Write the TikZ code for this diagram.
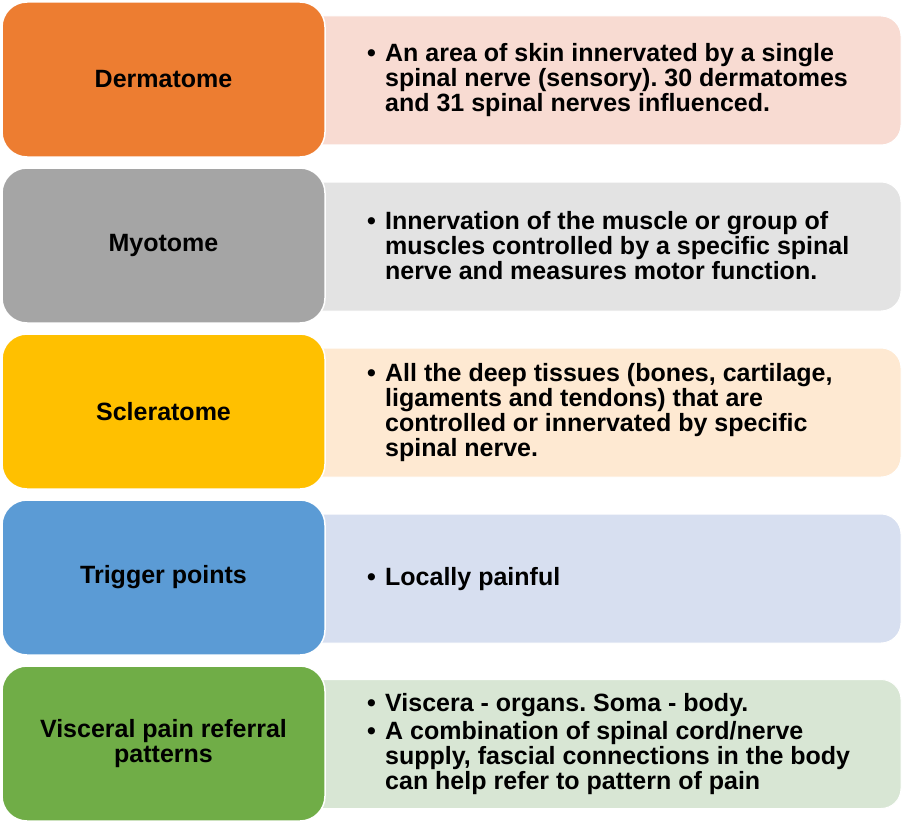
\documentclass[tikz,border=0pt]{standalone}
\usepackage{fontspec}
\setmainfont{Liberation Sans}
\frenchspacing
\definecolor{dermfill}{HTML}{ED7D31}
\definecolor{myofill}{HTML}{A5A5A5}
\definecolor{sclfill}{HTML}{FFC000}
\definecolor{trigfill}{HTML}{5B9BD5}
\definecolor{viscfill}{HTML}{70AD47}
\definecolor{dermpale}{HTML}{F8DBD2}
\definecolor{myopale}{HTML}{E3E3E3}
\definecolor{sclpale}{HTML}{FEE9D2}
\definecolor{trigpale}{HTML}{D7DFF0}
\definecolor{viscpale}{HTML}{D8E6D4}
\newcommand{\bul}{\makebox[18pt][l]{\textbullet}}
\newcommand{\ind}{\hspace*{18pt}}
\begin{document}
\begin{tikzpicture}[x=1pt,y=-1pt,
	term/.style={draw=white,line width=1.5pt,rounded corners=25pt,
		minimum width=323pt,minimum height=155pt,inner sep=0pt,
		align=center,font=\bfseries\fontsize{25}{25}\selectfont},
	panel/.style={draw=white,line width=1pt,rounded corners=20pt,
		minimum width=621pt,minimum height=129pt,inner sep=0pt},
	desc/.style={anchor=west,align=left,inner sep=0pt,
		font=\bfseries\fontsize{25}{25}\selectfont}]
	\useasboundingbox (0,0) rectangle (902,824);
	% pale panels behind
	\node[panel,fill=dermpale] (dermpanel) at (590.5,80.5) {};
	\node[panel,fill=myopale] (myopanel) at (590.5,246.5) {};
	\node[panel,fill=sclpale] (sclpanel) at (590.5,412.5) {};
	\node[panel,fill=trigpale] (trigpanel) at (590.5,578.5) {};
	\node[panel,fill=viscpale] (viscpanel) at (590.5,744) {};
	% coloured terms
	\node[term,fill=dermfill] (derm) at (163.5,79.5) {Dermatome};
	\node[term,fill=myofill] (myo) at (163.5,245.5) {Myotome};
	\node[term,fill=sclfill] (scl) at (163.5,411.5) {Scleratome};
	\node[term,fill=trigfill] (trig) at (163.5,577.5) {Trigger points};
	\node[term,fill=viscfill] (visc) at (163.5,743.5) {Visceral pain referral\\patterns};
	% descriptions
	\node[desc] (dermtxt) at (367,80) {\bul An area of skin innervated by a single\\
		\ind spinal nerve (sensory). 30 dermatomes\\
		\ind and 31 spinal nerves influenced.};
	\node[desc] (myotxt) at (367,246) {\bul Innervation of the muscle or group of\\
		\ind muscles controlled by a specific spinal\\
		\ind nerve and measures motor function.};
	\node[desc] (scltxt) at (367,413) {\bul All the deep tissues (bones, cartilage,\\
		\ind ligaments and tendons) that are\\
		\ind controlled or innervated by specific\\
		\ind spinal nerve.};
	\node[desc] (trigtxt) at (367,579) {\bul Locally painful};
	\node[desc] (visctxt) at (367,744.5) {\bul Viscera - organs. Soma - body.\\[3pt]
		\bul A combination of spinal cord/nerve\\
		\ind supply, fascial connections in the body\\
		\ind can help refer to pattern of pain};
\end{tikzpicture}
\end{document}
